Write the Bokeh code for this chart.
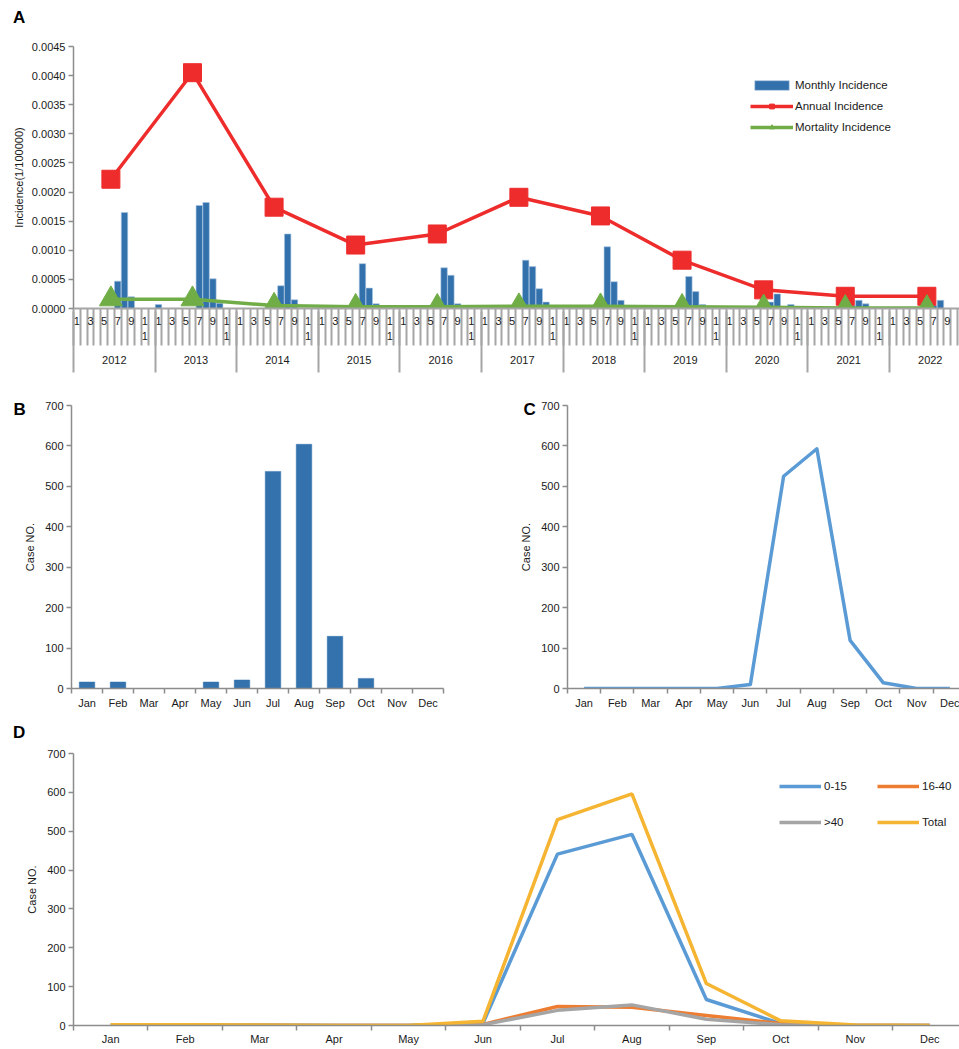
from bokeh.plotting import figure
from bokeh.layouts import column, row
from bokeh.models import (FixedTicker, LinearAxis, Legend, LegendItem, Div,
                          PrintfTickFormatter, Range1d)
from bokeh.embed import file_html
from bokeh.resources import INLINE

FONT = "Liberation Sans"
AXIS_GRAY = "#8c8c8c"
TICK_GRAY = "#a6a6a6"
TXT = "#1a1a1a"

# ---------------- data ----------------
years = ["2012", "2013", "2014", "2015", "2016", "2017", "2018", "2019", "2020", "2021", "2022"]
month_tick_labels = ["1", "", "3", "", "5", "", "7", "", "9", "", "1\n1", ""]

m2012 = [0, 0, 0, 0, 0, 0, 0.00047, 0.00165, 0.00020, 0, 0, 0]
m2013 = [0.00007, 0, 0, 0, 0, 0, 0.00177, 0.00182, 0.00051, 0.00009, 0, 0]
m2014 = [0, 0, 0, 0, 0, 0, 0.00039, 0.00128, 0.00015, 0.00001, 0, 0]
m2015 = [0, 0, 0, 0, 0, 0, 0.00077, 0.00035, 0.00008, 0, 0, 0]
m2016 = [0, 0, 0, 0, 0, 0, 0.00070, 0.00057, 0.00008, 0, 0, 0]
m2017 = [0, 0, 0, 0, 0, 0, 0.00083, 0.00072, 0.00034, 0.00011, 0, 0]
m2018 = [0, 0, 0, 0, 0, 0, 0.00106, 0.00046, 0.00014, 0, 0, 0]
m2019 = [0, 0.00001, 0, 0, 0, 0, 0.00055, 0.00029, 0.00007, 0, 0, 0]
m2020 = [0, 0, 0, 0, 0, 0.00003, 0.00011, 0.00025, 0, 0.00007, 0, 0]
m2021 = [0, 0, 0, 0, 0, 0, 0.00005, 0.00014, 0.00008, 0, 0, 0]
m2022 = [0, 0, 0, 0, 0, 0, 0.00005, 0.00014, 0, 0, 0, 0]
monthly_by_year = [m2012, m2013, m2014, m2015, m2016, m2017, m2018, m2019, m2020, m2021, m2022]

annual_incidence = [0.00222, 0.00405, 0.00174, 0.00109, 0.00128, 0.00191, 0.00159, 0.00083, 0.00032, 0.00021, 0.00021]
mortality_incidence = [0.00016, 0.00016, 0.00005, 0.00003, 0.00003, 0.00004, 0.00004, 0.00003, 0.00002, 0.00001, 0.00001]
incidence_ticks = [0, 0.0005, 0.0010, 0.0015, 0.0020, 0.0025, 0.0030, 0.0035, 0.0040, 0.0045]

months = ["Jan", "Feb", "Mar", "Apr", "May", "Jun", "Jul", "Aug", "Sep", "Oct", "Nov", "Dec"]
case_ticks = [0, 100, 200, 300, 400, 500, 600, 700]
cases_bar = [16, 16, 0, 0, 16, 21, 537, 604, 129, 25, 0, 0]
cases_line = [0, 0, 0, 0, 0, 10, 525, 593, 119, 14, 0, 0]
age_0_15 = [1, 1, 1, 0, 0, 6, 441, 492, 67, 5, 0, 0]
age_16_40 = [0, 0, 0, 0, 0, 3, 49, 47, 26, 5, 0, 0]
age_over_40 = [0, 0, 0, 0, 0, 2, 39, 53, 16, 2, 0, 0]
age_total = [2, 2, 1, 0, 0, 11, 530, 596, 108, 12, 1, 0]


def style_common(p):
    p.grid.visible = False
    p.outline_line_color = None
    p.background_fill_color = "white"
    p.border_fill_color = "white"
    for ax in p.axis:
        ax.major_label_text_font = FONT
        ax.major_label_text_font_size = "11px"
        ax.major_label_text_color = TXT
        ax.axis_label_text_font = FONT
        ax.axis_label_text_font_size = "11px"
        ax.axis_label_text_font_style = "normal"
        ax.axis_label_text_color = TXT
        ax.axis_line_color = AXIS_GRAY
        ax.axis_line_width = 1.5
        ax.major_tick_line_color = AXIS_GRAY
        ax.major_tick_line_width = 1.5
        ax.minor_tick_line_color = AXIS_GRAY
        ax.minor_tick_line_width = 1.5


def panel_letter(p, text, offset, standoff):
    p.title.text = text
    p.title.align = "left"
    p.title.offset = offset
    p.title.standoff = standoff
    p.title.text_font = FONT
    p.title.text_font_size = "17px"
    p.title.text_font_style = "bold"
    p.title.text_color = "black"


def letter_div(text, height, line_height):
    return Div(text=text, width=959, height=height, margin=0,
               styles={"font-family": FONT, "font-size": "17px", "font-weight": "bold",
                       "color": "black", "line-height": f"{line_height}px",
                       "text-indent": "13px", "overflow": "visible"})


def month_xaxis(p, standoff):
    ax = p.xaxis[0]
    ax.ticker = FixedTicker(ticks=list(range(1, 13)), minor_ticks=[k + 0.5 for k in range(0, 13)])
    ax.major_label_overrides = {i + 1: m for i, m in enumerate(months)}
    ax.major_tick_out = 0
    ax.major_tick_in = 0
    ax.minor_tick_out = 5
    ax.minor_tick_in = 0
    ax.major_label_standoff = standoff


def case_yaxis(p):
    ax = p.yaxis[0]
    ax.ticker = FixedTicker(ticks=case_ticks, minor_ticks=[])
    ax.axis_label = "Case NO."
    ax.major_tick_out = 5
    ax.major_tick_in = 0
    ax.major_label_standoff = 3
    ax.axis_label_standoff = 6


# ---------------- Panel A ----------------
n_years = len(years)
divA = letter_div("A", 28, 36)
pA = figure(width=959, height=352, x_range=Range1d(0.5, 130.8), y_range=Range1d(0, 0.0045),
            output_backend="svg", toolbar_location=None,
            min_border_left=73, min_border_right=0, min_border_top=18, min_border_bottom=72)

bar_x, bar_top = [], []
for i, vals in enumerate(monthly_by_year):
    for m, v in enumerate(vals, start=1):
        if v > 0:
            bar_x.append(i * 12 + m)
            bar_top.append(v)
bars = pA.vbar(x=bar_x, top=bar_top, width=0.95, fill_color="#3371AC",
               line_color="#A9C6E3", line_width=0.6)

year_x = [i * 12 + 6 for i in range(n_years)]
RED = "#EE2C2C"
GREEN = "#70AD47"
a_line = pA.line(year_x, annual_incidence, line_color=RED, line_width=3.5)
a_pts = pA.scatter(year_x, annual_incidence, marker="square", size=18, fill_color=RED, line_color=RED)
m_line = pA.line(year_x, mortality_incidence, line_color=GREEN, line_width=3.5)
m_pts = pA.scatter(year_x, mortality_incidence, marker="triangle", size=23, fill_color=GREEN, line_color=GREEN)

style_common(pA)
yA = pA.yaxis[0]
yA.ticker = FixedTicker(ticks=incidence_ticks, minor_ticks=[])
yA.formatter = PrintfTickFormatter(format="%.4f")
yA.axis_label = "Incidence(1/100000)"
yA.major_tick_out = 5
yA.major_tick_in = 0
yA.major_label_standoff = 3
yA.axis_label_standoff = 4

xA = pA.xaxis[0]
month_ticks = [i * 12 + m for i in range(n_years) for m in range(1, 13)]
xA.ticker = FixedTicker(ticks=month_ticks, minor_ticks=[k + 0.5 for k in range(0, n_years * 12 + 1)])
xA.major_label_overrides = {i * 12 + m: month_tick_labels[m - 1] for i in range(n_years) for m in range(1, 13)}
xA.major_tick_out = 0
xA.major_tick_in = 0
xA.minor_tick_out = 37
xA.minor_tick_in = 0
xA.minor_tick_line_color = TICK_GRAY
xA.minor_tick_line_width = 2
xA.axis_line_color = TICK_GRAY
xA.axis_line_width = 2
xA.major_label_standoff = -31
xA.major_label_text_line_height = 1.25

year_axis = LinearAxis(
    ticker=FixedTicker(ticks=[i * 12 + 6.5 for i in range(n_years)],
                       minor_ticks=[i * 12 + 0.5 for i in range(n_years + 1)]),
    major_label_overrides={i * 12 + 6.5: years[i] for i in range(n_years)},
    axis_line_color=None, major_tick_out=0, major_tick_in=0,
    minor_tick_in=33, minor_tick_out=28, minor_tick_line_color=TICK_GRAY, minor_tick_line_width=2,
    major_label_standoff=-17, major_label_text_font=FONT, major_label_text_font_size="11px",
    major_label_text_color=TXT)
pA.add_layout(year_axis, "below")

legA = Legend(items=[LegendItem(label="Monthly Incidence", renderers=[bars]),
                     LegendItem(label="Annual Incidence", renderers=[a_line, a_pts]),
                     LegendItem(label="Mortality Incidence", renderers=[m_line, m_pts])],
              location=(677, 175), padding=0, margin=0, spacing=9,
              glyph_width=43, glyph_height=12, label_height=12, label_standoff=2,
              label_text_font=FONT, label_text_font_size="11.5px", label_text_color=TXT,
              border_line_color=None, background_fill_alpha=0)
pA.add_layout(legA)

# ---------------- Panel B ----------------
month_pos = list(range(1, 13))
pB = figure(width=479, height=338, x_range=Range1d(0.5, 12.5), y_range=Range1d(0, 700),
            output_backend="svg", toolbar_location=None,
            min_border_left=71, min_border_right=36, min_border_top=25, min_border_bottom=30)
pB.vbar(x=month_pos, top=cases_bar, width=0.5, fill_color="#3372AD", line_color="#3372AD", line_width=0.5)
style_common(pB)
month_xaxis(pB, 3)
case_yaxis(pB)
panel_letter(pB, "B", -58, -26)

# ---------------- Panel C ----------------
pC = figure(width=480, height=338, x_range=Range1d(0.5, 12.29), y_range=Range1d(0, 700),
            output_backend="svg", toolbar_location=None,
            min_border_left=88, min_border_right=0, min_border_top=25, min_border_bottom=30)
pC.line(month_pos, cases_line, line_color="#5B9BD5", line_width=3.5, line_join="round")
style_common(pC)
month_xaxis(pC, 3)
case_yaxis(pC)
panel_letter(pC, "C", -44, -26)

# ---------------- Panel D ----------------
divD = letter_div("D", 30, 30)
pD = figure(width=959, height=299, x_range=Range1d(0.5, 12.4), y_range=Range1d(0, 700),
            output_backend="svg", toolbar_location=None,
            min_border_left=71, min_border_right=0, min_border_top=5, min_border_bottom=20)
r1 = pD.line(month_pos, age_0_15, line_color="#5B9BD5", line_width=3.5)
r2 = pD.line(month_pos, age_16_40, line_color="#ED7D31", line_width=3.5)
r3 = pD.line(month_pos, age_over_40, line_color="#A5A5A5", line_width=3.5)
r4 = pD.line(month_pos, age_total, line_color="#F5B431", line_width=3.5)
style_common(pD)
month_xaxis(pD, 2)
case_yaxis(pD)
legD = Legend(items=[LegendItem(label="0-15", renderers=[r1]),
                     LegendItem(label="16-40", renderers=[r2]),
                     LegendItem(label=">40", renderers=[r3]),
                     LegendItem(label="Total", renderers=[r4])],
              orientation="horizontal", ncols=2,
              location=(706, 193), padding=0, margin=0, spacing=16,
              glyph_width=42, glyph_height=20, label_height=20, label_width=37, label_standoff=3,
              label_text_font=FONT, label_text_font_size="11.5px", label_text_color=TXT,
              border_line_color=None, background_fill_alpha=0)
pD.add_layout(legD)

layout = column(divA, pA, row(pB, pC), divD, pD)
open("out.html", "w").write(file_html(layout, INLINE))
